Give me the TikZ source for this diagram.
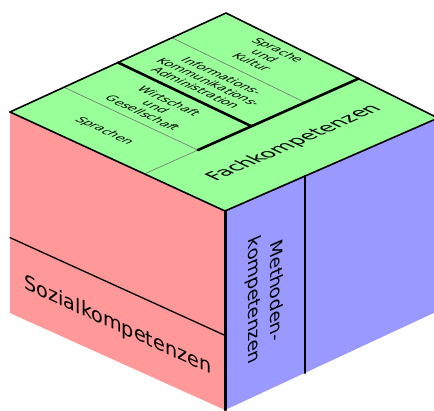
\documentclass[tikz,border=0pt]{standalone}
\usepackage{fontspec}
\setmainfont{DejaVu Sans}
\usetikzlibrary{calc}
\begin{document}
\begin{tikzpicture}[x=1pt,y=-1pt,line join=round,line cap=round,
  edge/.style={draw=black,line width=1.6pt},
  thickline/.style={draw=black,line width=2.6pt},
  thinline/.style={draw=black!55,line width=0.6pt},
  midline/.style={draw=black,line width=1.3pt},
  toptxt/.style={transform shape,align=center,inner sep=0pt,font=\fontsize{12.5}{14.5}\selectfont},
  bigtxt/.style={transform shape,align=center,inner sep=0pt,font=\fontsize{20}{24}\selectfont}]
\definecolor{redf}{RGB}{255,153,153}
\definecolor{greenf}{RGB}{153,255,153}
\definecolor{bluef}{RGB}{153,153,255}
\useasboundingbox (0,0) rectangle (434,410);
% cube vertices
\coordinate (T) at (226,13);
\coordinate (L) at (10,112);
\coordinate (F) at (225,211);
\coordinate (R) at (438,118);
\coordinate (LB) at (10,313);
\coordinate (FB) at (225,410);
\coordinate (RB) at (438,311);
% faces
\fill[redf] (L) -- (F) -- (FB) -- (LB) -- cycle;
\fill[bluef] (F) -- (R) -- (RB) -- (FB) -- cycle;
\fill[greenf] (L) -- (T) -- (R) -- (F) -- cycle;
% helper points
\coordinate (Fl) at ($(L)!0.625!(F)$);
\coordinate (Ft) at ($(T)!0.625!(R)$);
\coordinate (P1) at ($(L)!0.25!(T)$);
\coordinate (P2) at ($(L)!0.5!(T)$);
\coordinate (P3) at ($(L)!0.75!(T)$);
\coordinate (Q1) at ($(Fl)!0.25!(Ft)$);
\coordinate (Q2) at ($(Fl)!0.5!(Ft)$);
\coordinate (Q3) at ($(Fl)!0.75!(Ft)$);
\coordinate (Ls) at ($(L)!0.625!(LB)$);
\coordinate (Fs) at ($(F)!0.625!(FB)$);
\coordinate (Rt) at ($(F)!0.375!(R)$);
\coordinate (Rb) at ($(FB)!0.375!(RB)$);
% inner lines
\draw[thinline] (P1) -- (Q1);
\draw[thinline] (P3) -- (Q3);
\draw[thinline] (Fl) -- (Q1);
\draw[thickline] (Q1) -- (Ft);
\draw[thickline] (P2) -- (Q2);
\draw[midline] (Ls) -- (Fs);
\draw[thickline] (Rt) -- (Rb);
% outer edges
\draw[edge] (L) -- (T) -- (R);
\draw[edge] (L) -- (F) -- (R);
\draw[line width=3pt] (F) -- (FB);
% texts on top face
\begin{scope}[shift={(294,143)},cm={0.9165,0.400,-0.908,0.418,(0,0)}]
  \node[bigtxt] (fach) {Fachkompetenzen};
\end{scope}
\begin{scope}[shift={(104,131)},cm={0.908,-0.418,0.909,0.417,(0,0)}]
  \node[toptxt] (spr) {Sprachen};
\end{scope}
\begin{scope}[shift={(156,107)},cm={0.908,-0.418,0.909,0.417,(0,0)}]
  \node[toptxt] (wug) {Wirtschaft\\und\\Gesellschaft};
\end{scope}
\begin{scope}[shift={(209,82)},cm={0.908,-0.418,0.909,0.417,(0,0)}]
  \node[toptxt] (ika) {Informations-\\Kommunikations-\\Administration};
\end{scope}
\begin{scope}[shift={(265,56)},cm={0.908,-0.418,0.909,0.417,(0,0)}]
  \node[toptxt] (sk) {Sprache\\und\\Kultur};
\end{scope}
% left face
\begin{scope}[shift={(118,326)},cm={0.96,-0.442,0,1,(0,0)}]
  \node[bigtxt,font=\fontsize{20}{24}\selectfont] (sozial) {Sozialkompetenzen};
\end{scope}
% right face
\begin{scope}[shift={(264,296)},cm={0,-1,0.9165,0.400,(0,0)}]
  \node[bigtxt,font=\fontsize{18.5}{24}\selectfont] (meth) {Methoden-\\kompetenzen};
\end{scope}
\end{tikzpicture}
\end{document}
